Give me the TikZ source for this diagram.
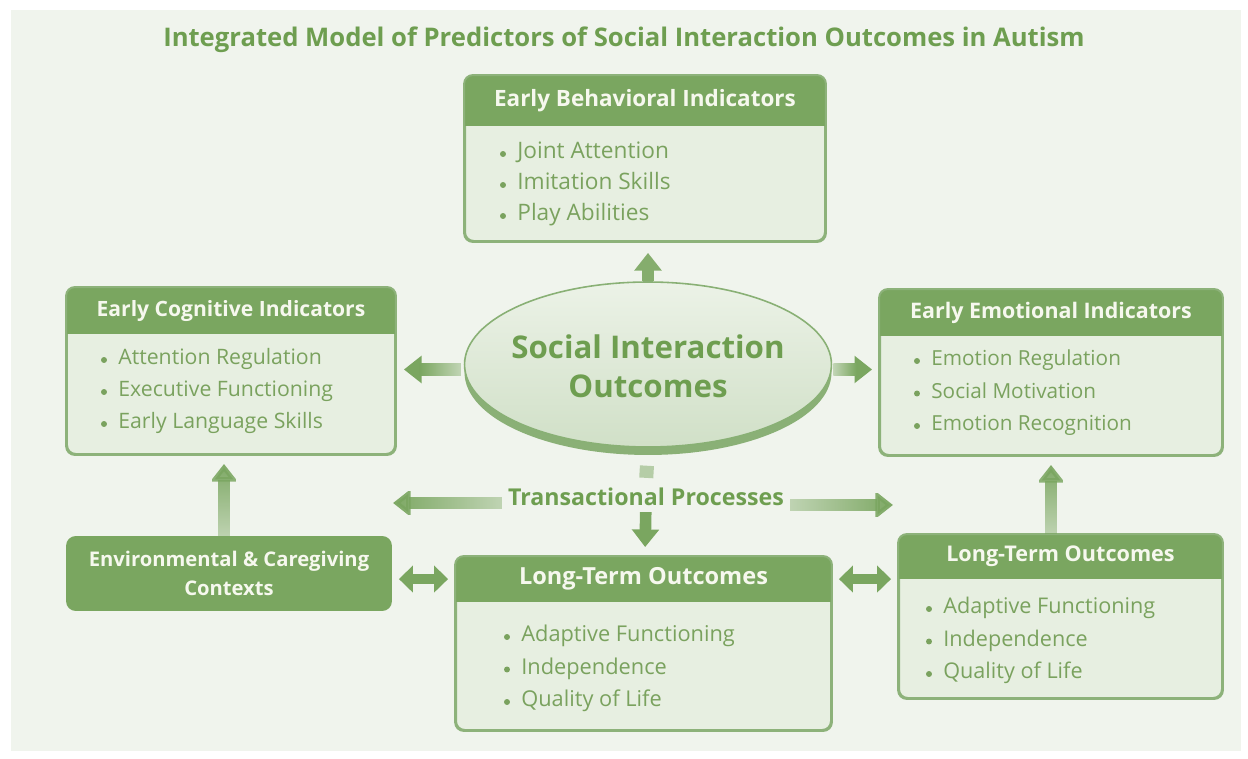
\documentclass[tikz,border=0pt]{standalone}
\usepackage{fontspec}
\setmainfont{Open Sans}
\usetikzlibrary{positioning,calc,shapes.geometric,arrows.meta,fadings}

\definecolor{leaf}{HTML}{7AA660}
\definecolor{leafdark}{HTML}{6E9E50}
\definecolor{leaftext}{HTML}{7AA25E}
\definecolor{leafline}{HTML}{8DB27A}
\definecolor{paleleaf}{HTML}{E7EFE1}
\definecolor{mist}{HTML}{F0F4ED}
\definecolor{cream}{HTML}{F6F8EE}

\tikzfading[name=tailfade, left color=transparent!0, right color=transparent!62]

\tikzset{
  card/.style={draw=leafline, fill=paleleaf, line width=1.1pt, rounded corners=5pt, inner sep=0pt},
  cardhead/.style={text=cream, font=\fontsize{#1}{15}\selectfont\bfseries},
  entry/.style={text=leaftext, anchor=base west, inner sep=0pt},
  dot/.style={circle, fill=leaftext, inner sep=0pt, minimum size=3.4pt},
  flow/.style={draw=leaf, line width=6.6pt, -{Triangle[width=15pt,length=10pt]}},
  fade/.style={path fading=tailfade, fading angle=#1},
  link/.style={draw=leaf, line width=5.4pt, {Triangle[width=15pt,length=8pt]}-{Triangle[width=15pt,length=8pt]},
    shorten <=0.14cm, shorten >=0.14cm},
}

% bullet rows: name, bullet x, first row y, row step, font size, items
\newcommand{\entries}[6]{%
  \foreach \txt [count=\i] in {#6} {
    \node[dot] (#1-dot\i) at (#2, {#3+#4*(\i-1)+2}) {};
    \node[entry, font=\fontsize{#5}{15}\selectfont] (#1-e\i) at (#2+14, {#3+#4*(\i-1)+7}) {\txt};
  }}

\begin{document}
\begin{tikzpicture}[x=0.02cm, y=-0.02cm]
  \useasboundingbox (0,0) rectangle (1248,759);
  \fill[white] (0,0) rectangle (1248,759);
  \fill[mist] (11,10) rectangle (1241,751);

  \node[text=leafdark, font=\fontsize{14.6}{17}\selectfont\bfseries] (title) at (624,40)
    {Integrated Model of Predictors of Social Interaction Outcomes in Autism};

  % cards
  \node[card, minimum width=7.2cm, minimum height=3.3cm] (beh) at (645,158.5) {};
  \node[card, minimum width=6.56cm, minimum height=3.32cm] (cog) at (231,371) {};
  \node[card, minimum width=6.84cm, minimum height=3.3cm] (emo) at (1051,372.5) {};
  \node[card, minimum width=7.5cm, minimum height=3.46cm] (ltm) at (643.5,643.5) {};
  \node[card, minimum width=6.46cm, minimum height=3.26cm] (ltr) at (1060.5,616.5) {};

  \foreach \b/\h/\s/\t in {beh/51/12.8/Early Behavioral Indicators, cog/47/12/Early Cognitive Indicators,
      emo/47/12.2/Early Emotional Indicators, ltm/46/13.4/Long-Term Outcomes, ltr/45/12.3/Long-Term Outcomes} {
    \begin{scope}
      \clip[rounded corners=5pt] (\b.north west) rectangle (\b.south east);
      \fill[leaf] (\b.north west) rectangle ([shift={(0,\h)}]\b.north east);
    \end{scope}
    \draw[leafline, line width=1.1pt, rounded corners=5pt] (\b.north west) rectangle (\b.south east);
    \node[cardhead=\s] (\b-head) at ([shift={(0,\h/2)}]\b.north) {\t};
  }

  \entries{beh}{503}{152}{31}{12.9}{Joint Attention, Imitation Skills, Play Abilities}
  \entries{cog}{104}{358}{32}{12.1}{Attention Regulation, Executive Functioning, Early Language Skills}
  \entries{emo}{917}{359}{32.5}{11.8}{Emotion Regulation, Social Motivation, Emotion Recognition}
  \entries{ltm}{507}{635}{32.5}{12.4}{Adaptive Functioning, Independence, Quality of Life}
  \entries{ltr}{929}{607}{32.5}{12.3}{Adaptive Functioning, Independence, Quality of Life}

  \node[card, fill=leaf, draw=leaf, minimum width=6.48cm, minimum height=1.46cm, text=cream,
    font=\fontsize{11.5}{16.4}\selectfont\bfseries, align=center] (env) at (229,573.5)
    {Environmental \& Caregiving\\Contexts};

  % centre ellipse with its rim
  \node[ellipse, fill=leafline!85!leaf, minimum width=7.34cm, minimum height=3.3cm, inner sep=0pt]
    (soc-rim) at (648,372.5) {};
  \node[ellipse, draw=leafline!80!leaf, line width=0.9pt, top color=paleleaf!80!white,
    bottom color=paleleaf!75!leafline, minimum width=7.34cm, minimum height=3.3cm, inner sep=0pt]
    (soc) at (648,364.5) {};
  \node[text=leafdark, font=\fontsize{17.8}{22}\selectfont\bfseries, align=center] (soc-text)
    at (648,366) {Social Interaction\\Outcomes};

  \node[text=leafdark, font=\fontsize{13.2}{15}\selectfont\bfseries] (trans) at (646,497)
    {Transactional Processes};
  \coordinate (west-end) at (393,503);
  \coordinate (east-end) at (893,505);

  % short arrows off the ellipse: solid, shafts shaded by hand
  \draw[flow, leaf!92!white] (soc.north) -- ($(soc.north |- beh.south)+(0,-0.22cm)$);
  \draw[flow] ($(soc.west)+(-0.06cm,-0.1cm)$) -- ($(soc.west -| cog.east)+(0.16cm,-0.1cm)$);
  \shade[left color=leaf, right color=leaf!40!mist]
    ($(soc.west -| cog.east)+(0.16cm+9pt,-0.1cm-3.3pt)$) rectangle ($(soc.west)+(-0.06cm,-0.1cm+3.3pt)$);
  \draw[flow] ($(soc.east)+(0.02cm,-0.1cm)$) -- ($(soc.east -| emo.west)+(-0.14cm,-0.1cm)$);
  \shade[left color=leaf!40!mist, right color=leaf]
    ($(soc.east)+(0.02cm,-0.1cm-3.3pt)$) rectangle ($(soc.east -| emo.west)+(-0.14cm-9pt,-0.1cm+3.3pt)$);

  % longer arrows
  \draw[line width=8pt, leaf!50!mist, shorten <=0.36cm, shorten >=0.08cm] (soc.south) -- (trans.north);
  \draw[flow, fade=0] (trans.west |- west-end) -- (west-end);
  \draw[flow, fade=180] (trans.east |- east-end) -- (east-end);
  \draw[flow, shorten >=0.18cm] (trans) -- (ltm);
  \draw[flow, fade=-90] ($(env.north)+(-0.1cm,0)$) -- ($(env.north |- cog.south)+(-0.1cm,-0.18cm)$);
  \draw[flow, fade=-90] (ltr.north -| emo.south) -- ($(emo.south)+(0,-0.18cm)$);
  \draw[link] (env.east |- ltm-head) -- (ltm.west |- ltm-head);
  \draw[link] (ltm.east |- ltm-head) -- (ltr.west |- ltm-head);
\end{tikzpicture}
\end{document}
